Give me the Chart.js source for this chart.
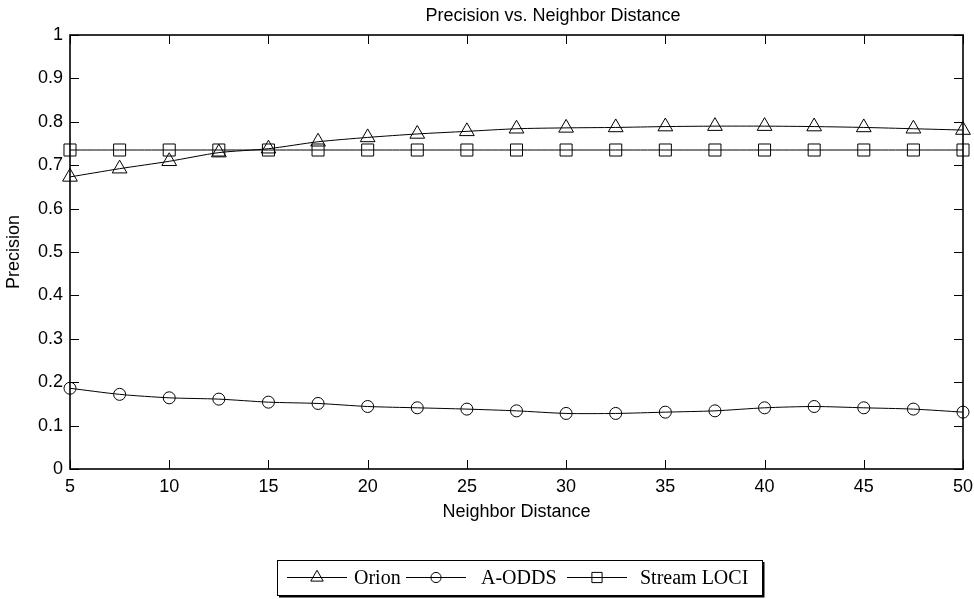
<!DOCTYPE html>
<html lang="en">
<head>
    <meta charset="UTF-8">
    <title>Precision vs. Neighbor Distance</title>
    <script src="https://cdn.jsdelivr.net/npm/chart.js@4.4.1/dist/chart.umd.min.js"></script>
    <style>
        body {
            margin: 0;
            background: #ffffff;
        }
        canvas {
            display: block;
        }
    </style>
</head>
<body>
    <canvas id="precisionChart" width="974" height="599"></canvas>

    <script>
        // values
        const distances = [5, 7.5, 10, 12.5, 15, 17.5, 20, 22.5, 25, 27.5, 30, 32.5, 35, 37.5, 40, 42.5, 45, 47.5, 50];
        const orion = [0.673, 0.692, 0.709, 0.729, 0.738, 0.754, 0.764, 0.772, 0.778, 0.784, 0.786, 0.787, 0.789, 0.790, 0.790, 0.789, 0.787, 0.784, 0.781];
        const aodds = [0.186, 0.172, 0.164, 0.161, 0.154, 0.151, 0.144, 0.141, 0.138, 0.134, 0.128, 0.128, 0.131, 0.134, 0.141, 0.144, 0.141, 0.138, 0.131];
        const streamLoci = [0.735, 0.735, 0.735, 0.735, 0.735, 0.735, 0.735, 0.735, 0.735, 0.735, 0.735, 0.735, 0.735, 0.735, 0.735, 0.735, 0.735, 0.735, 0.735];
        const seriesNames = ['Orion', 'A-ODDS', 'Stream LOCI'];
        const xTicks = [5, 10, 15, 20, 25, 30, 35, 40, 45, 50];

        const sansFont = '"Liberation Sans", Arial, sans-serif';
        const serifFont = '"Liberation Serif", "Times New Roman", serif';

        function toPoints(values) {
            return distances.map((d, i) => ({ x: d, y: values[i] }));
        }

        function makeSeries(label, values, style, radius) {
            return {
                label: label,
                data: toPoints(values),
                borderColor: '#000',
                backgroundColor: 'rgba(0,0,0,0)',
                borderWidth: 1,
                pointStyle: style,
                pointRadius: radius,
                pointBorderWidth: 1,
                pointBorderColor: '#000',
                pointBackgroundColor: 'rgba(0,0,0,0)',
                tension: 0.25,
                clip: false
            };
        }

        // box, inward ticks, title and legend drawn like the matlab figure
        const figurePlugin = {
            id: 'figure',
            afterDatasetsDraw(chart) {
                const ctx = chart.ctx;
                const area = chart.chartArea;
                const xs = chart.scales.x;
                const ys = chart.scales.y;
                ctx.save();
                ctx.strokeStyle = '#000';
                ctx.lineWidth = 1;
                ctx.beginPath();
                xs.ticks.forEach(t => {
                    const px = Math.round(xs.getPixelForValue(t.value)) + 0.5;
                    ctx.moveTo(px, area.bottom); ctx.lineTo(px, area.bottom - 9);
                    ctx.moveTo(px, area.top); ctx.lineTo(px, area.top + 9);
                });
                ys.ticks.forEach(t => {
                    const py = Math.round(ys.getPixelForValue(t.value)) + 0.5;
                    ctx.moveTo(area.left, py); ctx.lineTo(area.left + 9, py);
                    ctx.moveTo(area.right, py); ctx.lineTo(area.right - 9, py);
                });
                ctx.stroke();
                ctx.lineWidth = 1.6;
                ctx.strokeRect(area.left, area.top, area.right - area.left, area.bottom - area.top);

                // title
                ctx.fillStyle = '#000';
                ctx.font = '18px ' + sansFont;
                ctx.textAlign = 'center';
                ctx.textBaseline = 'alphabetic';
                ctx.fillText('Precision vs. Neighbor Distance', 553, 21);

                // legend
                const box = { left: 277, top: 560, right: 762, bottom: 595 };
                ctx.lineWidth = 1;
                ctx.strokeRect(box.left + 0.5, box.top + 0.5, box.right - box.left, box.bottom - box.top);
                ctx.lineWidth = 2;
                ctx.beginPath();
                ctx.moveTo(box.right + 1.5, box.top + 2);
                ctx.lineTo(box.right + 1.5, box.bottom + 1.5);
                ctx.lineTo(box.left + 2, box.bottom + 1.5);
                ctx.stroke();

                const sampleX = [287, 406, 567];
                const textX = [354, 481, 640];
                const midY = 577.5;
                ctx.font = '20px ' + serifFont;
                ctx.textAlign = 'left';
                chart.data.datasets.forEach((ds, i) => {
                    ctx.lineWidth = 1;
                    ctx.strokeStyle = '#000';
                    ctx.beginPath();
                    ctx.moveTo(sampleX[i], midY);
                    ctx.lineTo(sampleX[i] + 60, midY);
                    ctx.stroke();
                    ctx.fillStyle = 'rgba(0,0,0,0)';
                    Chart.helpers.drawPoint(ctx, {
                        pointStyle: ds.pointStyle,
                        radius: ds.pointRadius * 0.85,
                        rotation: 0,
                        borderWidth: 1
                    }, sampleX[i] + 30, midY);
                    ctx.fillStyle = '#000';
                    ctx.fillText(ds.label, textX[i], 584);
                });
                ctx.restore();
            }
        };

        const ctx = document.getElementById('precisionChart').getContext('2d');
        const precisionChart = new Chart(ctx, {
            type: 'line',
            data: {
                datasets: [
                    makeSeries(seriesNames[0], orion, 'triangle', 8.5),
                    makeSeries(seriesNames[1], aodds, 'circle', 6),
                    makeSeries(seriesNames[2], streamLoci, 'rect', 8.5)
                ]
            },
            options: {
                responsive: false,
                animation: false,
                layout: {
                    padding: { top: 35, left: 0, right: 11, bottom: 74 }
                },
                plugins: {
                    legend: { display: false },
                    title: { display: false },
                    tooltip: { enabled: false }
                },
                scales: {
                    x: {
                        type: 'linear',
                        min: 5,
                        max: 50,
                        afterFit: s => {
                            s.height = 56;
                            s.paddingLeft = 0;
                            s.paddingRight = 0;
                        },
                        afterBuildTicks: s => { s.ticks = xTicks.map(v => ({ value: v })); },
                        grid: { display: false, drawTicks: false },
                        border: { display: false },
                        ticks: {
                            padding: 7,
                            color: '#000',
                            maxRotation: 0,
                            font: { family: sansFont, size: 18 }
                        },
                        title: {
                            display: true,
                            text: 'Neighbor Distance',
                            color: '#000',
                            padding: { top: 0, bottom: 2 },
                            font: { family: sansFont, size: 18 }
                        }
                    },
                    y: {
                        min: 0,
                        max: 1,
                        afterFit: s => {
                            s.width = 70;
                            s.paddingTop = 0;
                            s.paddingBottom = 0;
                        },
                        grid: { display: false, drawTicks: false },
                        border: { display: false },
                        ticks: {
                            stepSize: 0.1,
                            padding: 7,
                            color: '#000',
                            font: { family: sansFont, size: 18 },
                            callback: v => String(Math.round(v * 10) / 10)
                        },
                        title: {
                            display: true,
                            text: 'Precision',
                            color: '#000',
                            padding: { top: 3, bottom: 0 },
                            font: { family: sansFont, size: 18 }
                        }
                    }
                }
            },
            plugins: [figurePlugin]
        });
    </script>
</body>
</html>
